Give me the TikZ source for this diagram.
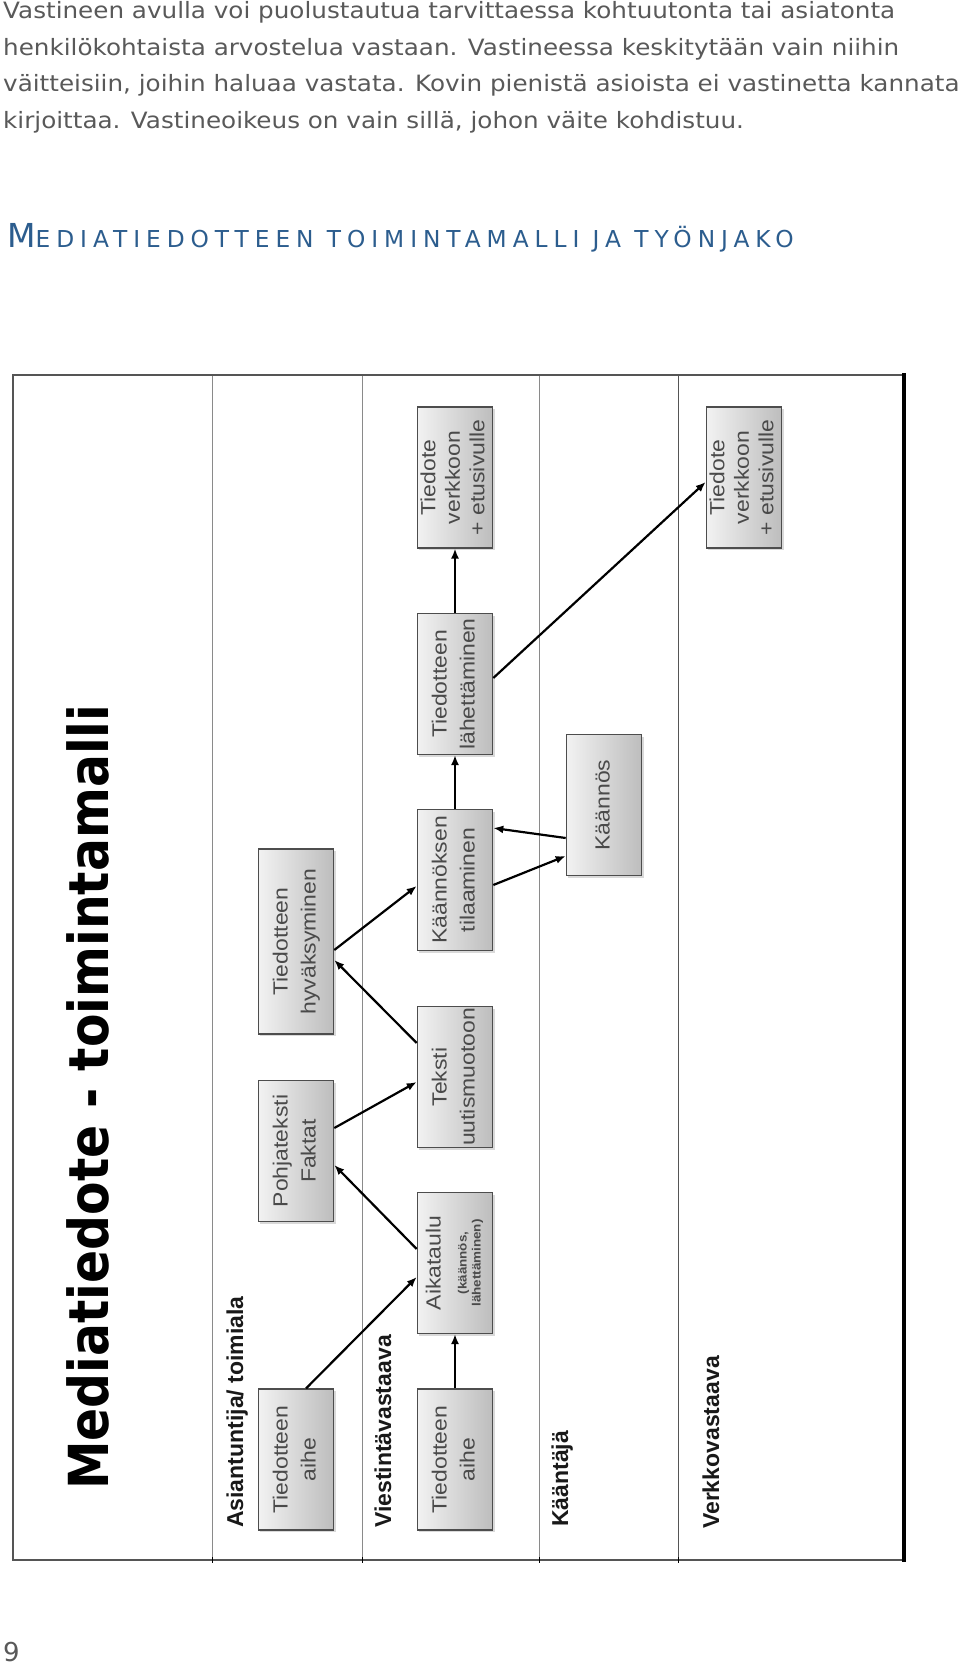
\documentclass[tikz,border=0pt]{standalone}
\usepackage{fontspec}
\setmainfont{DejaVu Sans}
\newfontfamily\arialf{Liberation Sans}
\newfontfamily\headf[LetterSpace=25.5]{DejaVu Sans}
\usetikzlibrary{arrows.meta}
\definecolor{bodygray}{HTML}{595959}
\definecolor{headblue}{HTML}{2C5D8E}
\definecolor{boxborder}{HTML}{4D4D4D}
\definecolor{boxtext}{HTML}{4A4A4A}
\definecolor{boxlight}{HTML}{F2F2F2}
\definecolor{boxdark}{HTML}{BDBDBD}
\definecolor{lanegray}{HTML}{8A8A8A}
\definecolor{framegray}{HTML}{555555}
\newcommand{\bxt}[1]{\rotatebox{90}{\scalebox{1.12}[1]{\begin{tabular}{@{}c@{}}#1\end{tabular}}}}
\newcommand{\bodyline}[1]{\scalebox{1.095}[1]{#1}}
\begin{document}
\begin{tikzpicture}[x=1pt,y=-1pt,
  bodytxt/.style={anchor=base west, inner sep=0pt, text=bodygray, font=\fontsize{22.5}{26}\selectfont},
  lanelbl/.style={anchor=base west, inner sep=0pt, rotate=90, font=\arialf\bfseries\fontsize{23}{26}\selectfont, text=black!90},
  bx/.style={draw=boxborder, line width=1.1pt, inner sep=0pt, minimum width=75.5pt, minimum height=141pt,
    left color=boxlight, right color=boxdark, text=boxtext, font=\arialf\fontsize{20.5}{28}\selectfont,
    preaction={fill=black!15, transform canvas={shift={(2,2)}}}},
  bx3/.style={bx, font=\arialf\fontsize{20.5}{24.5}\selectfont},
  arr/.style={-{Latex[length=10pt,width=8pt]}, line width=2.2pt, black},
]
\useasboundingbox (0,0) rectangle (960,1665);

% top text
\node[bodytxt] (t1) at (3,18.3) {\bodyline{Vastineen avulla voi puolustautua tarvittaessa kohtuutonta tai asiatonta}};
\node[bodytxt] (t2) at (3,55) {\bodyline{henkilökohtaista arvostelua vastaan. Vastineessa keskitytään vain niihin}};
\node[bodytxt] (t3) at (3,91.7) {\bodyline{väitteisiin, joihin haluaa vastata. Kovin pienistä asioista ei vastinetta kannata}};
\node[bodytxt] (t4) at (3,128.3) {\bodyline{kirjoittaa. Vastineoikeus on vain sillä, johon väite kohdistuu.}};

% heading
\node[anchor=base west, inner sep=0pt, text=headblue] (head) at (7,247)
  {\headf\fontsize{33}{33}\selectfont M\fontsize{23.3}{28}\selectfont EDIATIEDOTTEEN TOIMINTAMALLI JA TYÖNJAKO};

% page number
\node[anchor=base west, inner sep=0pt, text=bodygray, font=\fontsize{26}{30}\selectfont] (pnum) at (3,1661) {9};

% frame and lanes
\foreach \x in {212.5,362.5,539.3} \draw[lanegray, line width=1.2pt] (\x,375) -- (\x,1560);
\draw[framegray, line width=1.5pt] (678.5,375) -- (678.5,1560);
\draw[framegray, line width=1.3pt] (903,375) -- (13,375) -- (13,1560) -- (903,1560);
\draw[black, line width=4pt] (903.5,373) -- (903.5,1562);
\foreach \x in {212.5,362.5,539.3,678.5} \draw[black, line width=1.5pt] (\x,1557) -- (\x,1563);

% title
\node[anchor=base west, inner sep=0pt, rotate=90] (title) at (108,1490)
  {\scalebox{1}[1.13]{\resizebox{785pt}{!}{\bfseries\fontsize{51}{51}\selectfont Mediatiedote - toimintamalli}}};

% lane labels
\node[lanelbl] (lane1) at (243,1528) {Asiantuntija/ toimiala};
\node[lanelbl] (lane2) at (391,1528) {Viestintävastaava};
\node[lanelbl] (lane3) at (568,1527) {Kääntäjä};
\node[lanelbl] (lane4) at (719,1529) {Verkkovastaava};

% boxes
\node[bx] (aiheA) at (296,1459.5) {\bxt{Tiedotteen\\aihe}};
\node[bx] (aiheV) at (455,1459.5) {\bxt{Tiedotteen\\aihe}};
\node[bx] (aika) at (455,1263) {\bxt{Aikataulu\\[-2pt]\bfseries\fontsize{12}{14}\selectfont(käännös,\\[-14pt]\bfseries\fontsize{12}{14}\selectfont lähettäminen)}};
\node[bx] (pohja) at (296,1151) {\bxt{Pohjateksti\\Faktat}};
\node[bx] (teksti) at (455,1077) {\bxt{Teksti\\uutismuotoon}};
\node[bx, minimum height=185pt] (hyv) at (296,941.5) {\bxt{Tiedotteen\\hyväksyminen}};
\node[bx] (tilaus) at (455,880) {\bxt{Käännöksen\\tilaaminen}};
\node[bx] (kaannos) at (604,805) {\bxt{Käännös}};
\node[bx] (lahetys) at (455,684) {\bxt{Tiedotteen\\lähettäminen}};
\node[bx3] (verkkoV) at (455,477.5) {\bxt{Tiedote\\verkkoon\\+ etusivulle}};
\node[bx3] (verkkoW) at (744,477.5) {\bxt{Tiedote\\verkkoon\\+ etusivulle}};

% arrows
\draw[arr] ([xshift=10pt]aiheA.north) -- ([yshift=-14pt]aika.west);
\draw[arr] (aiheV.north) -- (aika.south);
\draw[arr] ([yshift=14pt]aika.west) -- ([yshift=-14pt]pohja.east);
\draw[arr] ([yshift=23pt]pohja.east) -- ([yshift=-5pt]teksti.west);
\draw[arr] ([yshift=34pt]teksti.west) -- ([yshift=-18.5pt]hyv.east);
\draw[arr] ([yshift=-8.5pt]hyv.east) -- ([yshift=-6pt]tilaus.west);
\draw[arr] ([yshift=-5pt]tilaus.east) -- ([yshift=-51pt]kaannos.west);
\draw[arr] ([yshift=-33pt]kaannos.west) -- ([yshift=52pt]tilaus.east);
\draw[arr] (tilaus.north) -- (lahetys.south);
\draw[arr] (lahetys.north) -- (verkkoV.south);
\draw[arr] ([yshift=6pt]lahetys.east) -- ([yshift=-4.5pt]verkkoW.west);
\end{tikzpicture}
\end{document}
